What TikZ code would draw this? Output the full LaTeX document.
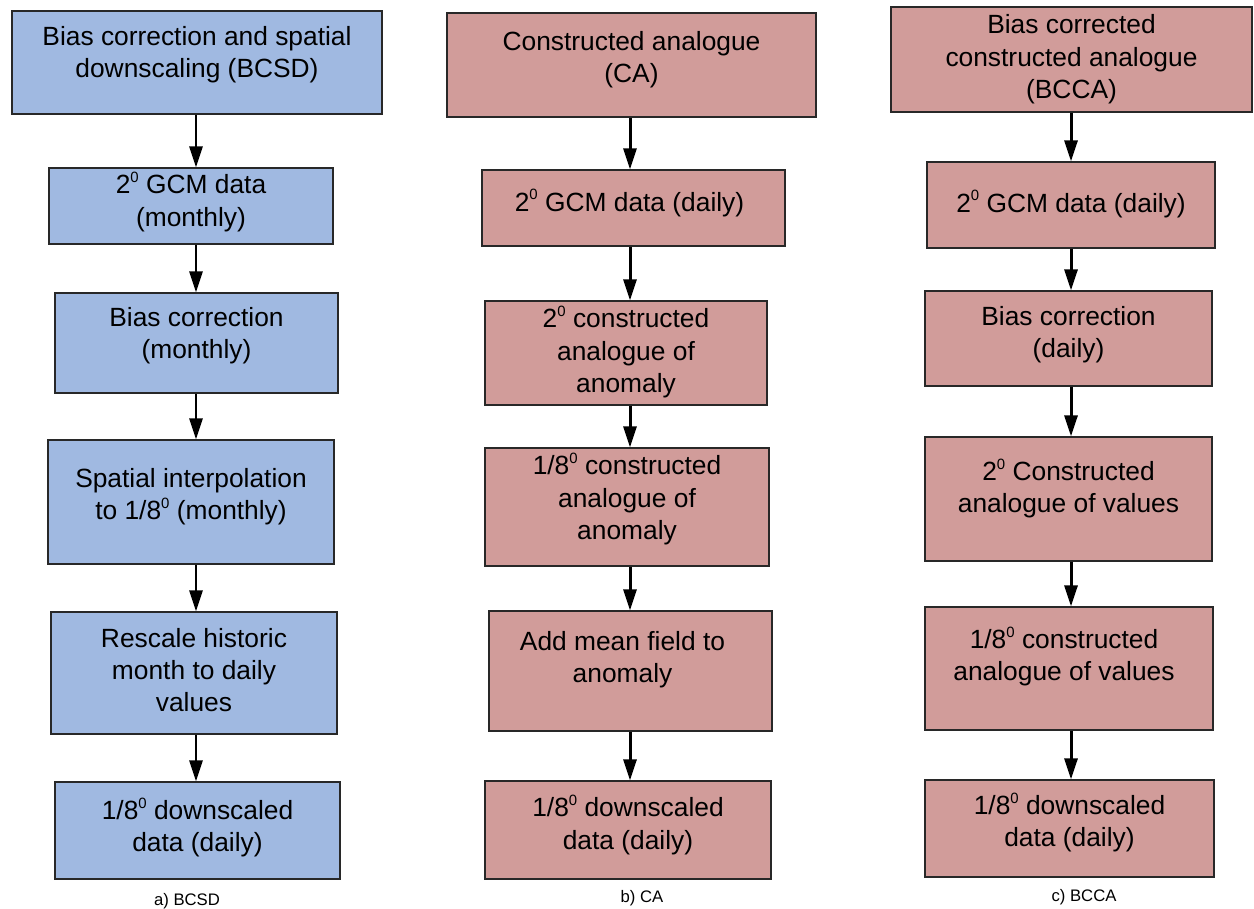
\documentclass[tikz,border=0pt]{standalone}
\usepackage{fontspec}
\setmainfont{Liberation Sans}
\usetikzlibrary{arrows.meta}
\definecolor{bcsdblue}{RGB}{160,185,225}
\definecolor{carose}{RGB}{209,156,154}
\definecolor{edgegray}{RGB}{40,40,40}
\newcommand{\degz}{\raisebox{6.3pt}{\fontsize{8.5}{8.5}\selectfont 0}}
\tikzset{
  stage/.style 2 args={draw=edgegray, line width=0.7pt, inner sep=0pt,
    minimum width=#1*0.02cm, minimum height=#2*0.02cm},
  bcsd/.style={fill=bcsdblue},
  ca/.style={fill=carose},
  txt/.style={align=center, inner sep=0pt, font=\fontsize{15}{18.4}\selectfont},
  figcap/.style={inner sep=0pt, font=\fontsize{9.5}{11}\selectfont},
  flow/.style={-{Triangle[length=0.42cm,width=0.26cm]}, line width=1.7pt}
}
\begin{document}
\begin{tikzpicture}[x=0.02cm,y=-0.02cm]
\useasboundingbox (0,0) rectangle (1254,909);
\coordinate (xa) at (196,0);
\coordinate (xb) at (630,0);
\coordinate (xc) at (1071,0);
%a) BCSD
\node[stage={370}{103}, bcsd, label={[txt,yshift=0.16cm]center:{Bias correction and spatial\\downscaling (BCSD)}}] (a1) at (197,62.5) {};
\node[stage={284}{76}, bcsd, label={[txt,yshift=0.08cm]center:{2\degz{} GCM data\\(monthly)}}] (a2) at (191,206) {};
\node[stage={283}{100}, bcsd, label={[txt,yshift=0.14cm]center:{Bias correction\\(monthly)}}] (a3) at (196.5,343) {};
\node[stage={286}{124}, bcsd, label={[txt,yshift=0.1cm]center:{Spatial interpolation\\to 1/8\degz{} (monthly)}}] (a4) at (191,502) {};
\node[stage={286}{122}, bcsd, label={[txt,yshift=0.06cm]center:{Rescale historic\\month to daily\\values}}] (a5) at (194,673) {};
\node[stage={285}{97}, bcsd, label={[txt,yshift=0.06cm]center:{1/8\degz{} downscaled\\data (daily)}}] (a6) at (197.5,830.5) {};
%b) CA
\node[stage={369}{104}, ca, label={[txt,yshift=0.1cm]center:{Constructed analogue\\(CA)}}] (b1) at (631.5,65) {};
\node[stage={303}{76}, ca, label={[txt,yshift=0.1cm,xshift=-0.08cm]center:{2\degz{} GCM data (daily)}}] (b2) at (633.5,208) {};
\node[stage={282}{104}, ca, label={[txt,yshift=0.02cm]center:{2\degz{} constructed\\analogue of\\anomaly}}] (b3) at (626,353) {};
\node[stage={284}{118}, ca, label={[txt,yshift=0.16cm]center:{1/8\degz{} constructed\\analogue of\\anomaly}}] (b4) at (627,507) {};
\node[stage={283}{120}, ca, label={[txt,yshift=0.22cm,xshift=-0.16cm]center:{Add mean field to\\anomaly}}] (b5) at (630.5,671) {};
\node[stage={286}{98}, ca, label={[txt,yshift=0.1cm]center:{1/8\degz{} downscaled\\data (daily)}}] (b6) at (628,830) {};
%c) BCCA
\node[stage={361}{105}, ca, label={[txt]center:{Bias corrected\\constructed analogue\\(BCCA)}}] (c1) at (1071.5,59.5) {};
\node[stage={288}{86}, ca, label={[txt,yshift=0.02cm]center:{2\degz{} GCM data (daily)}}] (c2) at (1071,205) {};
\node[stage={287}{95}, ca, label={[txt,yshift=0.08cm]center:{Bias correction\\(daily)}}] (c3) at (1068.5,338.5) {};
\node[stage={287}{124}, ca, label={[txt,yshift=0.21cm]center:{2\degz{} Constructed\\analogue of values}}] (c4) at (1068.5,499) {};
\node[stage={288}{123}, ca, label={[txt,yshift=0.24cm,xshift=-0.1cm]center:{1/8\degz{} constructed\\analogue of values}}] (c5) at (1069,668.5) {};
\node[stage={289}{97}, ca, label={[txt,yshift=0.12cm]center:{1/8\degz{} downscaled\\data (daily)}}] (c6) at (1069.5,828.5) {};
\foreach \col in {a,b,c}
  \foreach \i [count=\j from 2] in {1,...,5}
    \draw[flow] (\col\i.south -| x\col) -- (\col\j.north -| x\col);
\node[figcap] (capa) at (187,901) {a) BCSD};
\node[figcap] (capb) at (642,898) {b) CA};
\node[figcap] (capc) at (1084,897) {c) BCCA};
\end{tikzpicture}
\end{document}
